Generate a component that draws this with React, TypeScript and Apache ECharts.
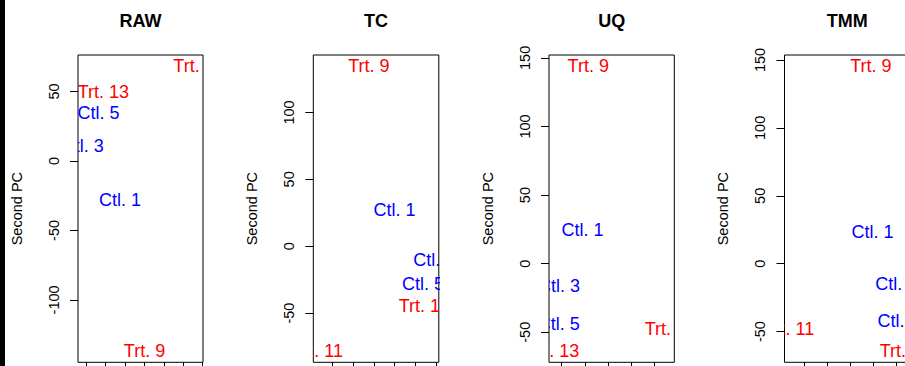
import React, { useEffect, useRef } from "react";
import * as echarts from "echarts";

// ---- data ----
const sampleNames = ["Ctl. 1", "Ctl. 3", "Ctl. 5", "Trt. 9", "Trt. 11", "Trt. 13"];
const sampleGroup = ["Ctl", "Ctl", "Ctl", "Trt", "Trt", "Trt"];
const panelTitles = ["RAW", "TC", "UQ", "TMM"];

const rawPC1 = [-25.1, -63.5, -47.2, 0.1, 55.5, -42.1];
const rawPC2 = [-28.4, 10.7, 34.2, -136.7, 68.0, 49.5];
const tcPC1 = [19.9, 58.2, 47.4, -5.0, -54.3, 48.7];
const tcPC2 = [26.9, -10.5, -28.1, 134.5, -78.3, -44.8];
const uqPC1 = [-22.0, -42.3, -42.6, -17.1, 53.3, -47.0];
const uqPC2 = [24.8, -16.0, -43.7, 143.8, -47.6, -63.6];
const tmmPC1 = [19.7, 40.4, 42.5, 18.2, -53.3, 48.4];
const tmmPC2 = [23.3, -14.9, -42.5, 145.3, -48.1, -64.2];

const rawXTicks = [-60, -40, -20, 0, 20, 40, 60];
const tcXTicks = [-40, -20, 0, 20, 40, 60];
const uqXTicks = [-40, -20, 0, 20, 40];
const tmmXTicks = [-40, -20, 0, 20, 40];
const rawYTicks = [-100, -50, 0, 50];
const tcYTicks = [-50, 0, 50, 100];
const uqYTicks = [-50, 0, 50, 100, 150];
const tmmYTicks = [-50, 0, 50, 100, 150];

const yAxisTitle = "Second PC";

// ---- layout / style ----
const FONT = "'Liberation Sans', Arial, Helvetica, sans-serif";
const groupColor: Record<string, string> = { Ctl: "#0000FF", Trt: "#FF0000" };
const gridLefts = [78, 313.3, 549, 784.5];
const gridWidths = [125, 125.5, 125.3, 125.5];
const GRID_TOP = 55;
const GRID_HEIGHT = 307.3;

const panels = [
  { x: rawPC1, y: rawPC2, xt: rawXTicks, yt: rawYTicks },
  { x: tcPC1, y: tcPC2, xt: tcXTicks, yt: tcYTicks },
  { x: uqPC1, y: uqPC2, xt: uqXTicks, yt: uqYTicks },
  { x: tmmPC1, y: tmmPC2, xt: tmmXTicks, yt: tmmYTicks },
];

function rRange(v: number[]) {
  const lo = Math.min(...v);
  const hi = Math.max(...v);
  const ext = (hi - lo) * 0.04;
  return [lo - ext, hi + ext];
}

export default function App() {
  const ref = useRef<HTMLDivElement>(null);
  useEffect(() => {
    if (!ref.current) return;
    const chart = echarts.init(ref.current, undefined, { renderer: "svg" });

    const grid = panels.map((_, i) => ({
      left: gridLefts[i],
      top: GRID_TOP,
      width: gridWidths[i],
      height: GRID_HEIGHT,
      show: true,
      borderColor: "#000",
      borderWidth: 1,
      backgroundColor: "transparent",
      containLabel: false,
      outerBoundsMode: "none",
    }));

    const xAxis = panels.map((p, i) => {
      const [mn, mx] = rRange(p.x);
      return {
        type: "value",
        gridIndex: i,
        position: "bottom",
        min: mn,
        max: mx,
        axisLine: { show: false, onZero: false },
        splitLine: { show: false },
        axisLabel: { show: false },
        axisTick: {
          show: true,
          length: 8,
          customValues: p.xt,
          lineStyle: { color: "#000", width: 1 },
        },
      };
    });

    const yAxis = panels.map((p, i) => {
      const [mn, mx] = rRange(p.y);
      return {
        type: "value",
        gridIndex: i,
        position: "left",
        min: mn,
        max: mx,
        name: yAxisTitle,
        nameLocation: "middle",
        nameGap: 54,
        nameTextStyle: { fontSize: 14.5, fontFamily: FONT, color: "#000" },
        axisLine: { show: false, onZero: false },
        splitLine: { show: false },
        axisTick: {
          show: true,
          length: 8,
          customValues: p.yt,
          lineStyle: { color: "#000", width: 1 },
        },
        axisLabel: {
          show: true,
          customValues: p.yt,
          rotate: 90,
          margin: 17,
          fontSize: 14.5,
          fontFamily: FONT,
          color: "#000",
        },
      };
    });

    const series = panels.map((p, i) => ({
      type: "custom",
      xAxisIndex: i,
      yAxisIndex: i,
      clip: true,
      data: p.x.map((xv, k) => [xv, p.y[k], k]),
      renderItem: (params: any, api: any) => {
        const pt = api.coord([api.value(0), api.value(1)]);
        const k = api.value(2);
        return {
          type: "text",
          x: pt[0],
          y: pt[1],
          style: {
            text: sampleNames[k],
            fill: groupColor[sampleGroup[k]],
            fontSize: 18,
            fontFamily: FONT,
            align: "center",
            verticalAlign: "middle",
          },
        };
      },
    }));

    const graphic: any[] = [
      { type: "rect", left: 0, top: 0, shape: { x: 0, y: 0, width: 5, height: 366 }, style: { fill: "#000" } },
    ];
    panelTitles.forEach((t, i) => {
      graphic.push({
        type: "text",
        x: gridLefts[i] + gridWidths[i] / 2,
        y: 21,
        style: {
          text: t,
          fill: "#000",
          fontSize: 18,
          fontWeight: "bold",
          fontFamily: FONT,
          align: "center",
          verticalAlign: "middle",
        },
      });
    });

    chart.setOption({
      animation: false,
      backgroundColor: "#fff",
      grid,
      xAxis,
      yAxis,
      series,
      graphic,
    });
    return () => chart.dispose();
  }, []);
  return (
    <div style={{ position: "absolute", left: 0, top: 0, width: 905, height: 366, overflow: "hidden" }}>
      <div ref={ref} style={{ width: 905, height: 366 }} />
    </div>
  );
}
